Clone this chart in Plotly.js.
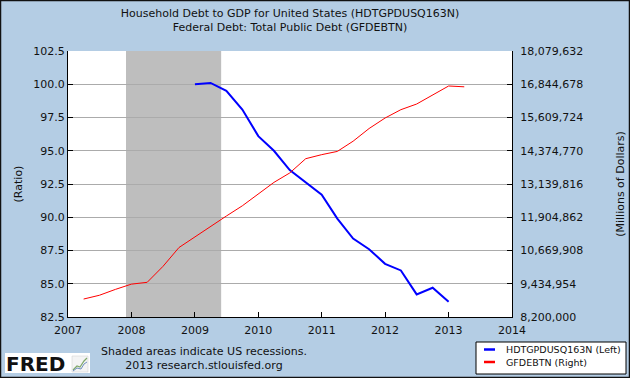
<!DOCTYPE html>
<html>
<head>
<meta charset="utf-8">
<script src="https://cdn.plot.ly/plotly-3.0.1.min.js"></script>
<style>html,body{margin:0;padding:0;background:#B4CDE4;}#chart{width:630px;height:378px;}</style>
</head>
<body>
<div id="chart"></div>
<script>
// ---- Data ----
const householdDates = ['2009-01-01','2009-04-01','2009-07-01','2009-10-01','2010-01-01','2010-04-01','2010-07-01','2010-10-01','2011-01-01','2011-04-01','2011-07-01','2011-10-01','2012-01-01','2012-04-01','2012-07-01','2012-10-01','2013-01-01'];
const householdValues = [100.0, 100.1, 99.5, 98.1, 96.1, 95.0, 93.55, 92.65, 91.7, 89.9, 88.4, 87.6, 86.5, 86.0, 84.2, 84.7, 83.65];

const federalDates = ['2007-04-01','2007-07-01','2007-10-01','2008-01-01','2008-04-01','2008-07-01','2008-10-01','2009-01-01','2009-04-01','2009-07-01','2009-10-01','2010-01-01','2010-04-01','2010-07-01','2010-10-01','2011-01-01','2011-04-01','2011-07-01','2011-10-01','2012-01-01','2012-04-01','2012-07-01','2012-10-01','2013-01-01','2013-04-01'];
const federalValues = [8867000, 9008000, 9225000, 9420000, 9488000, 10080000, 10780000, 11180000, 11570000, 11950000, 12330000, 12760000, 13200000, 13550000, 14080000, 14230000, 14350000, 14730000, 15200000, 15590000, 15900000, 16110000, 16460000, 16780000, 16750000];

const recessionStart = '2007-12-01';
const recessionEnd = '2009-06-01';

const titleLines = ['Household Debt to GDP for United States (HDTGPDUSQ163N)', 'Federal Debt: Total Public Debt (GFDEBTN)'];
const seriesNames = ['HDTGPDUSQ163N (Left)', 'GFDEBTN (Right)'];
const leftAxisTitle = '(Ratio)';
const rightAxisTitle = '(Millions of Dollars)';
const footerLines = ['Shaded areas indicate US recessions.', '2013 research.stlouisfed.org'];

// ---- Layout helpers (pixel -> paper) ----
const W = 630, H = 378, L = 68, R = 512, T = 51, B = 317;
const px = x => (x - L) / (R - L);
const py = y => (B - y) / (B - T);

const FONT = 'DejaVu Sans, Verdana, sans-serif';
const BG = '#B4CDE4';

const traces = [
  {x: householdDates, y: householdValues, type: 'scatter', mode: 'lines', name: seriesNames[0],
   line: {color: '#0000FF', width: 2}, yaxis: 'y', showlegend: false, hoverinfo: 'skip'},
  {x: federalDates, y: federalValues, type: 'scatter', mode: 'lines', name: seriesNames[1],
   line: {color: '#FF0000', width: 1}, yaxis: 'y2', showlegend: false, hoverinfo: 'skip'}
];

const shapes = [
  {type: 'rect', xref: 'x', yref: 'paper', x0: recessionStart, x1: recessionEnd, y0: 0, y1: 1,
   fillcolor: '#BEBEBE', line: {width: 0}, layer: 'between'},
  // outer border
  {type: 'rect', xref: 'paper', yref: 'paper', x0: px(0.5), x1: px(W - 0.5), y0: py(H - 0.5), y1: py(0.5),
   line: {color: '#111111', width: 1.5}, fillcolor: 'rgba(0,0,0,0)'},
  // legend box
  {type: 'rect', xref: 'paper', yref: 'paper', x0: px(476), x1: px(626), y0: py(374), y1: py(342),
   line: {color: '#000000', width: 1}, fillcolor: '#FFFFFF'},
  {type: 'line', xref: 'paper', yref: 'paper', x0: px(484), x1: px(495), y0: py(349.5), y1: py(349.5),
   line: {color: '#0000FF', width: 2.5}},
  {type: 'line', xref: 'paper', yref: 'paper', x0: px(484), x1: px(495), y0: py(362), y1: py(362),
   line: {color: '#FF0000', width: 2.5}},
  // FRED logo box
  {type: 'rect', xref: 'paper', yref: 'paper', x0: px(5), x1: px(90), y0: py(373), y1: py(353),
   line: {width: 0}, fillcolor: '#FFFFFF'},
  {type: 'rect', xref: 'paper', yref: 'paper', x0: px(72), x1: px(88), y0: py(372), y1: py(356),
   line: {color: '#CCCCCC', width: 0.5}, fillcolor: '#F4F4F4'},
  {type: 'path', xref: 'paper', yref: 'paper',
   path: 'M' + px(73) + ',' + py(370) + ' L' + px(77) + ',' + py(366) + ' L' + px(80) + ',' + py(367) + ' L' + px(84) + ',' + py(361) + ' L' + px(87) + ',' + py(358),
   line: {color: '#7FA86A', width: 1.2}},
  {type: 'path', xref: 'paper', yref: 'paper',
   path: 'M' + px(73) + ',' + py(371) + ' L' + px(77) + ',' + py(368) + ' L' + px(81) + ',' + py(369) + ' L' + px(84) + ',' + py(364) + ' L' + px(87) + ',' + py(362),
   line: {color: '#6F8FC0', width: 1}}
];

const annotations = [
  {xref: 'paper', yref: 'paper', x: px(504), y: py(349.5), xanchor: 'left', yanchor: 'middle', showarrow: false,
   text: seriesNames[0], font: {family: FONT, size: 9.5, color: '#111'}},
  {xref: 'paper', yref: 'paper', x: px(504), y: py(362.5), xanchor: 'left', yanchor: 'middle', showarrow: false,
   text: seriesNames[1], font: {family: FONT, size: 9.5, color: '#111'}},
  {xref: 'paper', yref: 'paper', x: px(204), y: py(358.5), xanchor: 'center', yanchor: 'middle', showarrow: false,
   text: footerLines.join('<br>'), align: 'center', font: {family: FONT, size: 11, color: '#111'}},
  {xref: 'paper', yref: 'paper', x: px(4), y: py(364), xanchor: 'left', yanchor: 'middle', showarrow: false,
   text: '<b>FRED</b>', font: {family: 'DejaVu Sans, Arial, sans-serif', size: 20, color: '#111'}}
];

const layout = {
  width: W, height: H,
  paper_bgcolor: BG, plot_bgcolor: '#FFFFFF',
  margin: {l: L, r: W - R, t: T, b: H - B, pad: 0},
  font: {family: FONT, size: 11, color: '#111'},
  title: {text: titleLines.join('<br>'), x: 0.5, xanchor: 'center', xref: 'paper',
          y: 1 - 17 / H, yanchor: 'top', yref: 'container', font: {family: FONT, size: 11, color: '#111'}},
  xaxis: {type: 'date', range: ['2007-01-01', '2014-01-01'], dtick: 'M12', tick0: '2007-01-01', tickformat: '%Y',
          ticks: 'inside', ticklen: 5, tickcolor: '#000', showline: true, linecolor: '#000', linewidth: 1,
          showgrid: false, zeroline: false, ticklabelstandoff: 3, tickfont: {family: FONT, size: 11, color: '#111'}},
  yaxis: {range: [82.5, 102.5], tick0: 82.5, dtick: 2.5, tickformat: '.1f',
          ticks: 'inside', ticklen: 5, tickcolor: '#000', showline: true, linecolor: '#000', linewidth: 1,
          showgrid: true, gridcolor: '#ABABAB', gridwidth: 1, zeroline: false,
          tickfont: {family: FONT, size: 11, color: '#111'},
          title: {text: leftAxisTitle, font: {family: FONT, size: 11, color: '#111'}, standoff: 8}},
  yaxis2: {range: [8200000, 18079632], tick0: 8200000, dtick: 1234954, tickformat: ',d',
           overlaying: 'y', side: 'right', ticks: 'inside', ticklen: 5, tickcolor: '#000',
           showline: true, linecolor: '#000', linewidth: 1, showgrid: false, zeroline: false,
           ticklabelstandoff: 5,
           tickfont: {family: FONT, size: 11, color: '#111'},
           title: {text: rightAxisTitle, font: {family: FONT, size: 11, color: '#111'}, standoff: 34}},
  shapes: shapes,
  annotations: annotations,
  showlegend: false
};

Plotly.newPlot('chart', traces, layout, {staticPlot: true, displayModeBar: false});
</script>
</body>
</html>
